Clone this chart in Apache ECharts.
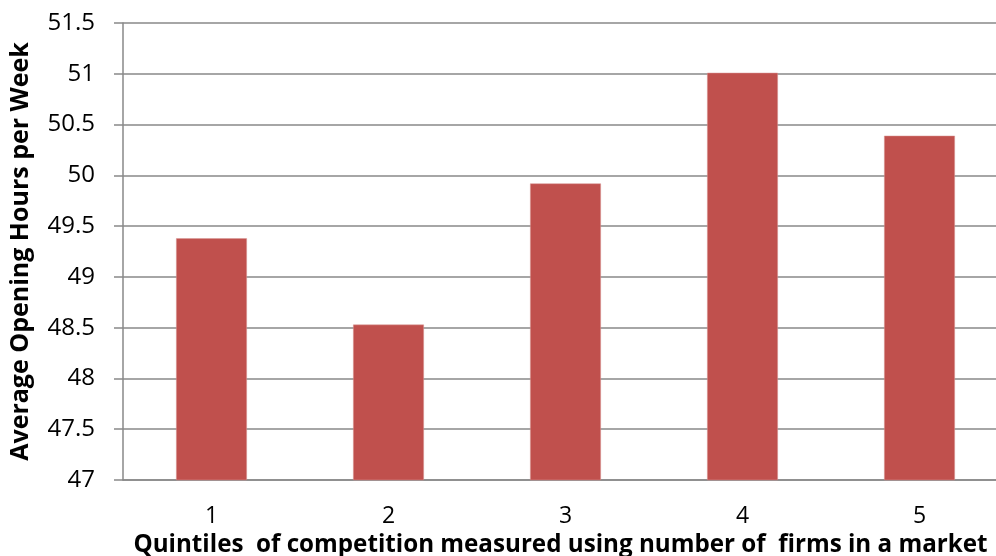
<!DOCTYPE html>
<html><head><meta charset="utf-8">
<script src="https://cdn.jsdelivr.net/npm/echarts@6/dist/echarts.min.js"></script>
<style>html,body{margin:0;padding:0;background:#fff}#c{width:996px;height:556px}</style>
</head><body><div id="c"></div>
<script>
const categories = ['1','2','3','4','5'];
const hours = [49.38, 48.53, 49.92, 51.01, 50.39];
const yTitle = 'Average Opening Hours per Week';
const xTitle = 'Quintiles  of competition measured using number of  firms in a market';
const font = 'Open Sans, Noto Sans, sans-serif';
const chart = echarts.init(document.getElementById('c'));
chart.setOption({
  animation: false,
  backgroundColor: '#fff',
  grid: {left: 123, top: 23, width: 885, height: 457, containLabel: false, outerBoundsMode: 'none'},
  xAxis: {
    type: 'category', data: categories,
    axisLine: {lineStyle: {color: '#898989', width: 1.5}},
    axisTick: {show: false},
    axisLabel: {color: '#000', fontSize: 23, fontFamily: font, margin: 25},
    name: xTitle, nameLocation: 'middle', nameGap: 49,
    nameTextStyle: {color: '#000', fontSize: 24.2, fontWeight: 'bold', fontFamily: font, padding: [0, 0, 0, -10]}
  },
  yAxis: {
    type: 'value', min: 47, max: 51.5, interval: 0.5,
    axisLine: {show: true, lineStyle: {color: '#898989', width: 1.5}},
    axisTick: {show: true, length: 9, lineStyle: {color: '#898989', width: 1.5}},
    splitLine: {lineStyle: {color: '#898989', width: 1.5}},
    axisLabel: {color: '#000', fontSize: 24, fontFamily: font, margin: 28},
    name: yTitle, nameLocation: 'middle', nameGap: 90, nameRotate: 90,
    nameTextStyle: {color: '#000', fontSize: 25, fontWeight: 'bold', fontFamily: font}
  },
  series: [{
    type: 'bar', data: hours, barWidth: '40%',
    itemStyle: {color: '#C0504D', borderColor: '#D99694', borderWidth: 0.5}
  }]
});
</script></body></html>
